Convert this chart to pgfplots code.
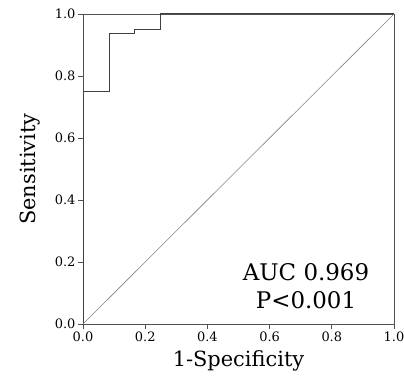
\documentclass[border=0pt]{standalone}
\usepackage{pgfplots}
\pgfplotsset{compat=1.18}
\usepackage{fontspec}
\setmainfont{DejaVu Serif}
\definecolor{axgray}{HTML}{505050}
\definecolor{curve}{HTML}{404040}
\begin{document}
\begin{tikzpicture}
\path[use as bounding box] (-83bp,-58bp) rectangle (321bp,324bp);
\begin{axis}[
  scale only axis,
  width=311bp, height=310bp,
  xmin=0, xmax=1, ymin=0, ymax=1,
  axis line style={axgray, line width=0.8pt},
  xtick={0,0.2,0.4,0.6,0.8,1.0},
  ytick={0,0.2,0.4,0.6,0.8,1.0},
  tick align=outside,
  xtick pos=bottom, ytick pos=left,
  major tick length=5bp,
  tick style={axgray, line width=0.8pt},
  /pgf/number format/assume math mode=true,
  /pgf/number format/.cd, fixed, fixed zerofill, precision=1,
  /pgfplots/.cd,
  ticklabel style={font=\fontsize{13}{15}\selectfont, text=black},
  xticklabel style={yshift=1bp},
  yticklabel style={xshift=1bp},
  xlabel={1-Specificity},
  ylabel={Sensitivity},
  xlabel style={font=\fontsize{21}{24}\selectfont, yshift=-2bp},
  ylabel style={font=\fontsize{21}{24}\selectfont, yshift=8bp},
  clip=false,
]
\addplot[curve, line width=1pt] coordinates {
  (0,0) (0,0.75) (0.0846,0.75) (0.0846,0.936) (0.167,0.936) (0.167,0.951) (0.25,0.951) (0.25,1) (1,1)
};
\addplot[gray, line width=0.6pt] coordinates {(0,0) (1,1)};
\node[font=\fontsize{23}{26}\selectfont] at (axis cs:0.717,0.168) {AUC 0.969};
\node[font=\fontsize{23}{26}\selectfont] at (axis cs:0.717,0.077) {P<0.001};
\end{axis}
\end{tikzpicture}
\end{document}
